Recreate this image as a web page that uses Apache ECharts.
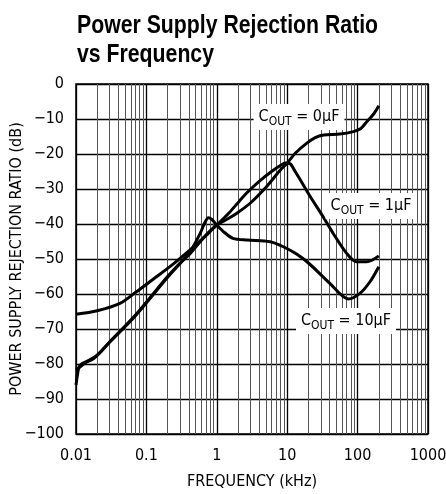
<!DOCTYPE html>
<html>
<head>
<meta charset="utf-8">
<script src="https://cdn.jsdelivr.net/npm/echarts@6/dist/echarts.min.js"></script>
<style>
  html, body { margin: 0; padding: 0; background: #fff; }
  #chart { width: 446px; height: 494px; }
</style>
</head>
<body>
<div id="chart"></div>
<script>
// frequency (kHz) and PSRR (dB)
var freq0 = [0.01, 0.02, 0.042, 0.073, 0.13, 0.216, 0.417, 0.72, 1, 1.5, 2, 3, 5, 8, 10, 13, 19, 25, 33, 56, 87, 110, 135, 170, 200];
var psrr0 = [-65.8, -64.8, -62.7, -59.3, -55.5, -52.2, -47.4, -43.1, -40.3, -38.3, -36.7, -34, -29.5, -24.6, -22.6, -19.8, -16.9, -15.3, -14.6, -14.3, -13.6, -12.8, -10.8, -8.5, -6.2];

var freq1 = [0.01, 0.012, 0.014, 0.018, 0.03, 0.07, 0.2, 0.3, 0.42, 0.72, 1, 1.5, 2.1, 2.7, 4, 6, 8, 9.5, 11, 13, 16, 21, 33, 45, 70, 97, 135, 200];
var psrr1 = [-81.7, -80.5, -79.5, -78.4, -73.7, -66, -55, -51.2, -48.4, -42.9, -40.3, -36.8, -33.4, -31, -27.8, -25, -23.3, -22.6, -22.8, -25, -28, -32, -38.2, -42.7, -48.4, -50.8, -50.8, -49.1];

var freq10 = [0.01, 0.0105, 0.011, 0.012, 0.015, 0.02, 0.03, 0.07, 0.2, 0.3, 0.42, 0.58, 0.68, 0.76, 0.85, 1, 1.3, 1.7, 2.7, 5.7, 8.8, 13.6, 21, 40, 74, 108, 150, 200];
var psrr10 = [-86, -83, -81, -80, -79, -77.5, -73.8, -66.2, -55.2, -51.3, -47.8, -42.7, -39.5, -38.2, -38.7, -40.3, -42.5, -44.1, -44.6, -45.1, -46.5, -48.6, -51.5, -56.9, -61.4, -59.8, -56.5, -52.2];

var curveNames = ["0µF", "1µF", "10µF"];

var font = "'DejaVu Sans Condensed', 'Liberation Sans', sans-serif";

function pairs(xs, ys) {
  return xs.map(function (x, i) { return [x, ys[i]]; });
}

// minor vertical grid lines (2..9 in every decade)
var minorLines = [];
for (var d = -2; d < 3; d++) {
  for (var m = 2; m <= 9; m++) {
    minorLines.push({ xAxis: m * Math.pow(10, d) });
  }
}

function curve(name, xs, ys) {
  return {
    name: name,
    type: "line",
    data: pairs(xs, ys),
    smooth: 0.3,
    showSymbol: false,
    symbol: "none",
    z: 5,
    lineStyle: { color: "#000", width: 3 }
  };
}

function coutLabel(text, x, y) {
  return {
    type: "text",
    x: x,
    y: y,
    z: 100,
    style: {
      text: "{a|C}{b|OUT}{a| = " + text + "}",
      backgroundColor: "#fff",
      padding: [2, 5, 2, 5],
      align: "center",
      verticalAlign: "middle",
      rich: {
        a: { fontSize: 16, fontFamily: font, fill: "#000", lineHeight: 22 },
        b: { fontSize: 12, fontFamily: font, fill: "#000", lineHeight: 14, verticalAlign: "bottom" }
      }
    }
  };
}

var chart = echarts.init(document.getElementById("chart"));

var option = {
  animation: false,
  backgroundColor: "#fff",
  grid: {
    left: 76,
    right: 18,
    top: 84,
    bottom: 60,
    outerBoundsMode: "none",
    containLabel: false,
    show: true,
    borderColor: "#000",
    borderWidth: 1.5,
    backgroundColor: "transparent"
  },
  xAxis: {
    type: "log",
    logBase: 10,
    min: 0.01,
    max: 1000,
    name: "FREQUENCY (kHz)",
    nameLocation: "middle",
    nameGap: 40,
    nameMoveOverlap: false,
    nameTextStyle: { fontFamily: font, fontSize: 16, color: "#000" },
    axisLine: { show: false },
    axisTick: { show: false },
    axisLabel: {
      margin: 14,
      fontFamily: font,
      fontSize: 16,
      color: "#000",
      formatter: function (v) { return String(Number(v.toPrecision(3))); }
    },
    splitLine: { show: true, lineStyle: { color: "#000", width: 1.3 } }
  },
  yAxis: {
    type: "value",
    min: -100,
    max: 0,
    interval: 10,
    name: "POWER SUPPLY REJECTION RATIO (dB)",
    nameLocation: "middle",
    nameGap: 51,
    nameMoveOverlap: false,
    nameTextStyle: { fontFamily: font, fontSize: 16, color: "#000" },
    axisLine: { show: false },
    axisTick: { show: false },
    axisLabel: {
      margin: 12,
      fontFamily: font,
      fontSize: 16,
      color: "#000",
      formatter: function (v) { return String(v).replace("-", "\u2212"); }
    },
    splitLine: { show: true, lineStyle: { color: "#000", width: 1.3 } }
  },
  series: [
    {
      name: "grid",
      type: "line",
      data: [],
      z: 1,
      silent: true,
      markLine: {
        silent: true,
        symbol: ["none", "none"],
        label: { show: false },
        lineStyle: { color: "#555", width: 1, type: "solid" },
        emphasis: { disabled: true },
        data: minorLines
      }
    },
    curve(curveNames[0], freq0, psrr0),
    curve(curveNames[1], freq1, psrr1),
    curve(curveNames[2], freq10, psrr10)
  ],
  graphic: [
    {
      type: "text",
      x: 77,
      y: 12,
      scaleX: 0.85,
      style: {
        text: "Power Supply Rejection Ratio\nvs Frequency",
        font: "bold 25px 'Liberation Sans', sans-serif",
        lineHeight: 29,
        fill: "#000",
        verticalAlign: "top"
      }
    },
    coutLabel(curveNames[0], 299, 117),
    coutLabel(curveNames[1], 371, 206),
    coutLabel(curveNames[2], 346, 321)
  ]
};

chart.setOption(option);
</script>
</body>
</html>
